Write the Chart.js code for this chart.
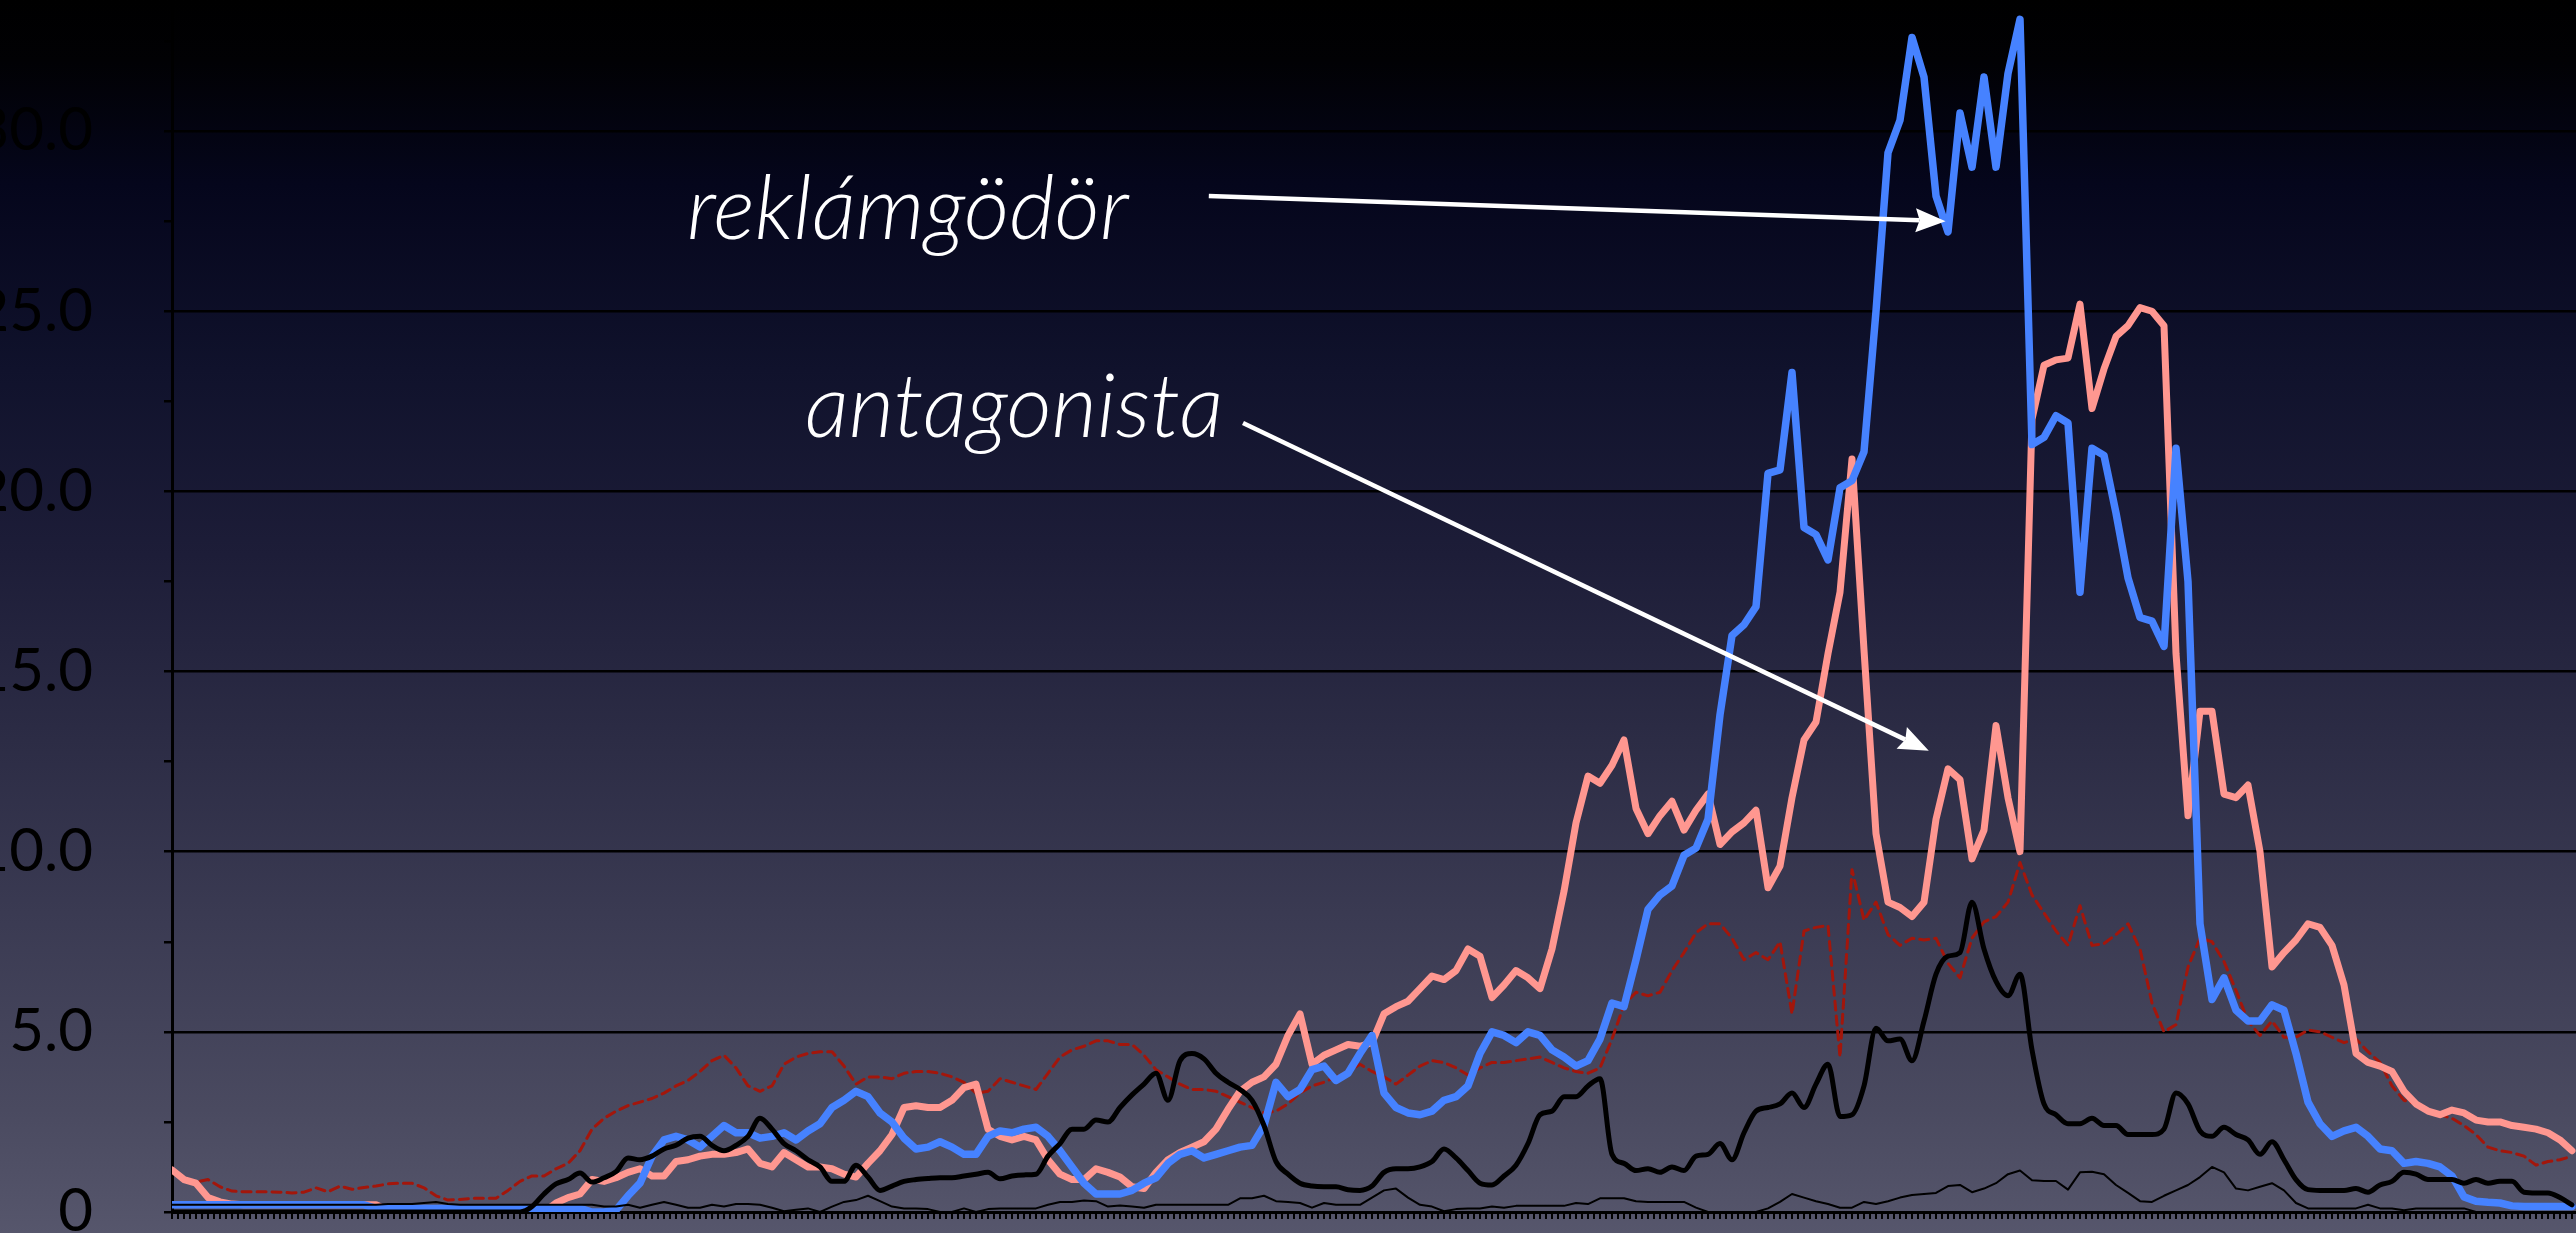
<!DOCTYPE html>
<html>
<head>
<meta charset="utf-8">
<script src="https://cdn.jsdelivr.net/npm/chart.js@4"></script>
<style>
  html, body { margin: 0; padding: 0; overflow: hidden; }
  body {
    width: 2576px; height: 1233px;
    background: linear-gradient(to bottom, #000000 0%, #010104 5%, #05061c 15%, #10122c 30%, #1d1d38 45%, #2c2c45 60%, #3b3b53 75%, #4a4a60 90%, #56566c 100%);
  }
  canvas { display: block; }
</style>
</head>
<body>
<canvas id="chart" width="2576" height="1233"></canvas>
<script>
// Series values, one point per step along the x axis
const seriesBlue = [
  0.2,0.2,0.2,0.2,0.2,0.2,0.2,0.2,0.2,0.2,
  0.2,0.2,0.2,0.2,0.2,0.2,0.2,0.1,0.1,0.1,
  0.1,0.1,0.1,0.1,0.1,0.1,0.1,0.1,0.1,0.1,
  0.1,0.1,0.1,0.1,0.1,0,0,0.05,0.45,0.8,
  1.55,2.0,2.1,2.0,1.8,2.1,2.4,2.2,2.2,2.05,
  2.1,2.2,2.0,2.25,2.45,2.9,3.1,3.35,3.2,2.75,
  2.5,2.05,1.75,1.8,1.95,1.8,1.6,1.6,2.1,2.25,
  2.2,2.3,2.35,2.1,1.7,1.25,0.8,0.5,0.5,0.5,
  0.6,0.8,0.95,1.35,1.6,1.7,1.5,1.6,1.7,1.8,
  1.85,2.4,3.6,3.2,3.4,3.95,4.05,3.65,3.85,4.4,
  4.9,3.3,2.9,2.75,2.7,2.8,3.1,3.2,3.5,4.4,
  5.0,4.9,4.7,5.0,4.9,4.5,4.3,4.05,4.2,4.8,
  5.8,5.7,7.0,8.4,8.8,9.05,9.9,10.1,10.9,13.8,
  16.0,16.3,16.8,20.5,20.6,23.3,19.0,18.8,18.1,20.1,
  20.3,21.1,25.0,29.4,30.3,32.6,31.5,28.2,27.2,30.5,
  29.0,31.5,29.0,31.6,33.1,21.3,21.5,22.1,21.9,17.2,
  21.2,21.0,19.4,17.6,16.5,16.4,15.7,21.2,17.5,8.0,
  5.9,6.5,5.6,5.3,5.3,5.75,5.6,4.4,3.05,2.45,
  2.1,2.25,2.35,2.1,1.75,1.7,1.35,1.4,1.35,1.25,
  1.0,0.42,0.3,0.27,0.25,0.17,0.15,0.15,0.15,0.15,
  0.15
];

const seriesPink = [
  1.17,0.9,0.8,0.4,0.28,0.22,0.2,0.2,0.2,0.2,
  0.2,0.2,0.2,0.2,0.2,0.2,0.2,0.2,0.05,0,
  0,0,0,0,0,0,0,0,0,0,
  0,0,0.25,0.4,0.5,0.9,0.85,0.95,1.1,1.2,
  1.0,1.0,1.4,1.45,1.55,1.6,1.6,1.65,1.75,1.35,
  1.25,1.65,1.45,1.25,1.25,1.2,1.05,0.97,1.35,1.7,
  2.15,2.9,2.95,2.9,2.9,3.1,3.45,3.55,2.3,2.1,
  2.0,2.1,2.0,1.45,1.05,0.9,0.9,1.2,1.1,0.97,
  0.7,0.65,1.1,1.45,1.65,1.8,1.95,2.3,2.85,3.35,
  3.6,3.75,4.1,4.9,5.5,4.1,4.35,4.5,4.65,4.6,
  4.7,5.5,5.7,5.85,6.2,6.55,6.45,6.7,7.3,7.1,
  5.95,6.3,6.7,6.5,6.2,7.3,8.9,10.8,12.1,11.9,
  12.4,13.1,11.2,10.5,11.0,11.4,10.6,11.15,11.6,10.2,
  10.55,10.8,11.15,9.0,9.6,11.5,13.1,13.6,15.5,17.2,
  20.9,15.6,10.5,8.6,8.45,8.2,8.6,10.9,12.3,12.0,
  9.8,10.6,13.5,11.5,10.0,22.0,23.5,23.65,23.7,25.2,
  22.3,23.4,24.3,24.6,25.1,25.0,24.6,15.5,11.0,13.9,
  13.9,11.6,11.5,11.85,10.0,6.8,7.2,7.55,8.0,7.9,
  7.4,6.3,4.4,4.15,4.05,3.9,3.35,3.0,2.8,2.7,
  2.83,2.75,2.55,2.5,2.5,2.4,2.35,2.3,2.2,2.0,
  1.7
];

const seriesDashed = [
  1.1,0.95,0.83,0.9,0.7,0.58,0.56,0.56,0.56,0.55,
  0.53,0.55,0.67,0.56,0.72,0.63,0.68,0.72,0.78,0.8,
  0.8,0.67,0.45,0.33,0.35,0.38,0.38,0.38,0.6,0.85,
  1.0,1.0,1.2,1.35,1.7,2.3,2.6,2.8,2.95,3.05,
  3.15,3.3,3.5,3.65,3.9,4.2,4.35,4.0,3.5,3.35,
  3.5,4.1,4.3,4.4,4.45,4.45,4.05,3.55,3.75,3.75,
  3.7,3.85,3.9,3.9,3.85,3.75,3.6,3.3,3.35,3.7,
  3.6,3.5,3.4,3.85,4.3,4.5,4.6,4.75,4.75,4.65,
  4.65,4.35,3.95,3.75,3.55,3.4,3.4,3.35,3.2,3.05,
  2.9,2.75,2.8,3.0,3.3,3.5,3.6,3.75,3.9,4.1,
  3.9,3.75,3.55,3.8,4.05,4.2,4.15,4.0,3.8,4.0,
  4.15,4.15,4.2,4.25,4.3,4.15,4.0,3.9,3.85,4.0,
  4.8,5.75,6.1,6.0,6.1,6.7,7.2,7.75,8.0,8.0,
  7.6,7.0,7.2,7.0,7.5,5.5,7.8,7.9,7.95,4.3,
  9.5,8.1,8.6,7.7,7.4,7.6,7.55,7.6,6.9,6.5,
  7.6,8.05,8.2,8.6,9.7,8.8,8.3,7.8,7.4,8.5,
  7.4,7.45,7.7,8.0,7.3,5.8,5.0,5.2,6.8,7.6,
  7.5,6.95,6.15,5.3,4.9,5.3,4.85,4.85,5.05,5.0,
  4.85,4.7,4.8,4.45,4.15,3.5,3.1,3.0,2.8,2.7,
  2.6,2.4,2.15,1.8,1.7,1.65,1.55,1.3,1.4,1.45,
  1.55
];

const seriesBlackThick = [
  0,0,0,0,0,0,0,0,0,0,
  0,0,0,0,0,0,0,0,0,0,
  0,0,0,0,0,0,0,0,0,0,
  0.15,0.5,0.78,0.9,1.08,0.83,0.95,1.12,1.5,1.45,
  1.55,1.75,1.85,2.05,2.1,1.85,1.7,1.85,2.1,2.6,
  2.3,1.9,1.7,1.45,1.25,0.85,0.85,1.3,0.97,0.6,
  0.72,0.85,0.9,0.93,0.95,0.95,1.0,1.05,1.1,0.92,
  1.0,1.03,1.05,1.55,1.9,2.3,2.3,2.55,2.5,2.9,
  3.25,3.55,3.85,3.1,4.2,4.4,4.25,3.85,3.6,3.4,
  3.1,2.4,1.4,1.05,0.8,0.72,0.7,0.7,0.62,0.6,
  0.72,1.1,1.2,1.2,1.25,1.4,1.75,1.5,1.15,0.8,
  0.75,1.0,1.3,1.9,2.7,2.8,3.2,3.2,3.5,3.7,
  1.6,1.35,1.15,1.2,1.1,1.25,1.15,1.55,1.6,1.9,
  1.45,2.2,2.8,2.9,3.0,3.3,2.9,3.55,4.1,2.65,
  2.7,3.5,5.1,4.75,4.8,4.2,5.3,6.6,7.1,7.2,
  8.6,7.3,6.4,6.0,6.6,4.5,3.0,2.7,2.45,2.45,
  2.6,2.4,2.4,2.15,2.15,2.15,2.3,3.3,3.0,2.25,
  2.1,2.35,2.15,2.0,1.6,1.95,1.45,0.9,0.62,0.6,
  0.6,0.6,0.65,0.55,0.75,0.85,1.1,1.05,0.9,0.9,
  0.9,0.8,0.9,0.8,0.85,0.85,0.55,0.53,0.53,0.4,
  0.2
];

const seriesBlackThin = [
  0.2,0.2,0.2,0.2,0.2,0.2,0.2,0.2,0.2,0.2,
  0.2,0.2,0.2,0.2,0.2,0.2,0.2,0.2,0.22,0.22,
  0.22,0.25,0.28,0.22,0.2,0.2,0.2,0.2,0.2,0.2,
  0.2,0.2,0.2,0.2,0.2,0.2,0.15,0.15,0.2,0.12,
  0.2,0.28,0.2,0.12,0.12,0.2,0.15,0.22,0.22,0.2,
  0.12,0.02,0.06,0.1,0,0.15,0.28,0.33,0.45,0.3,
  0.15,0.1,0.1,0.08,0,0,0.1,0,0.08,0.1,
  0.1,0.1,0.1,0.2,0.28,0.28,0.32,0.3,0.15,0.18,
  0.15,0.12,0.2,0.2,0.2,0.2,0.2,0.2,0.2,0.38,
  0.38,0.45,0.3,0.28,0.25,0.12,0.25,0.2,0.2,0.2,
  0.4,0.6,0.65,0.4,0.2,0.15,0.02,0.08,0.1,0.1,
  0.15,0.12,0.17,0.17,0.17,0.17,0.17,0.25,0.22,0.38,
  0.38,0.38,0.3,0.28,0.28,0.28,0.28,0.12,0,0,
  0,0,0,0.1,0.28,0.5,0.4,0.3,0.22,0.12,
  0.12,0.28,0.22,0.3,0.4,0.47,0.5,0.53,0.72,0.75,
  0.55,0.65,0.8,1.05,1.15,0.88,0.86,0.86,0.62,1.1,
  1.12,1.05,0.75,0.53,0.3,0.28,0.45,0.6,0.75,0.97,
  1.25,1.1,0.65,0.6,0.7,0.8,0.6,0.25,0.1,0.1,
  0.1,0.1,0.1,0.2,0.1,0.1,0.05,0.1,0.1,0.1,
  0.1,0.1,0,0,0,0,0,0,0,0,
  0
];

// Y axis tick labels
const yTickValues = [0, 5, 10, 15, 20, 25, 30];
const yTickLabels = ['0', '5.0', '10.0', '15.0', '20.0', '25.0', '30.0'];

// Callout texts, placed in data units (x step, y value)
const callouts = [
  { text: 'reklámgödör', at: [42.9, 27.0], from: [86.4, 28.2], to: [147.8, 27.5] },
  { text: 'antagonista', at: [52.75, 21.5], from: [89.25, 21.9], to: [146.4, 12.8] }
];

const toPoints = arr => arr.map((v, i) => ({ x: i, y: v }));

// Draw callout texts and arrows
const calloutPlugin = {
  id: 'callouts',
  afterDatasetsDraw(chart) {
    const { ctx, scales: { x, y } } = chart;
    ctx.save();
    ctx.fillStyle = '#fff';
    ctx.strokeStyle = '#fff';
    ctx.font = 'italic 300 88px Lato, "Open Sans", sans-serif';
    ctx.textBaseline = 'alphabetic';
    ctx.textAlign = 'left';
    callouts.forEach(c => {
      ctx.fillText(c.text, x.getPixelForValue(c.at[0]), y.getPixelForValue(c.at[1]));
      const x1 = x.getPixelForValue(c.from[0]), y1 = y.getPixelForValue(c.from[1]);
      const x2 = x.getPixelForValue(c.to[0]), y2 = y.getPixelForValue(c.to[1]);
      const ang = Math.atan2(y2 - y1, x2 - x1);
      const headLen = 26, headW = 12;
      const bx = x2 - headLen * Math.cos(ang), by = y2 - headLen * Math.sin(ang);
      ctx.lineWidth = 4.5;
      ctx.beginPath();
      ctx.moveTo(x1, y1);
      ctx.lineTo(bx, by);
      ctx.stroke();
      ctx.beginPath();
      ctx.moveTo(x2, y2);
      ctx.lineTo(bx + headW * Math.sin(ang) - 4 * Math.cos(ang), by - headW * Math.cos(ang) - 4 * Math.sin(ang));
      ctx.lineTo(bx, by);
      ctx.lineTo(bx - headW * Math.sin(ang) - 4 * Math.cos(ang), by + headW * Math.cos(ang) - 4 * Math.sin(ang));
      ctx.closePath();
      ctx.fill();
    });
    ctx.restore();
  }
};

const ctx = document.getElementById('chart').getContext('2d');
new Chart(ctx, {
  type: 'line',
  data: {
    datasets: [
      { data: toPoints(seriesBlackThick), borderColor: '#000', borderWidth: 5, cubicInterpolationMode: 'monotone' },
      { data: toPoints(seriesBlackThin), borderColor: '#000', borderWidth: 2 },
      { data: toPoints(seriesBlue), borderColor: '#4682ff', borderWidth: 7.5 },
      { data: toPoints(seriesPink), borderColor: '#ff9790', borderWidth: 7 },
      { data: toPoints(seriesDashed), borderColor: '#a3160b', borderWidth: 3, borderDash: [9, 6] }
    ]
  },
  options: {
    responsive: false,
    animation: false,
    devicePixelRatio: 1,
    layout: { padding: { top: 5, right: 0, left: 0, bottom: 0 } },
    elements: {
      point: { radius: 0 },
      line: { tension: 0, borderJoinStyle: 'round', borderCapStyle: 'round', fill: false }
    },
    plugins: { legend: { display: false }, tooltip: { enabled: false } },
    scales: {
      x: {
        type: 'linear',
        min: 0,
        max: seriesBlue.length - 1 + 1 / 3,
        afterFit: s => { s.height = 21; s.paddingLeft = 0; s.paddingRight = 0; },
        border: { display: true, color: '#000', width: 3 },
        grid: { drawOnChartArea: false, drawTicks: true, tickLength: 7, tickColor: '#000', lineWidth: 2 },
        ticks: { display: false, stepSize: 0.5, includeBounds: false, autoSkip: false }
      },
      y: {
        min: 0,
        max: 33.5,
        // fixed axis width; labels overflow past the left edge as in the original
        afterFit: s => { s.width = 172; s.paddingTop = 0; s.paddingBottom = 0; },
        border: { display: true, color: '#000', width: 3 },
        grid: {
          color: c => (c.tick && yTickValues.includes(c.tick.value)) ? '#000' : 'rgba(0,0,0,0)',
          tickColor: '#000',
          lineWidth: 2.5,
          tickLength: 8
        },
        ticks: {
          stepSize: 2.5,
          includeBounds: false,
          autoSkip: false,
          padding: 71,
          color: '#000',
          font: { family: 'Lato, "Open Sans", sans-serif', size: 60 },
          callback: v => {
            const k = yTickValues.indexOf(v);
            return k >= 0 ? yTickLabels[k] : '';
          }
        }
      }
    }
  },
  plugins: [calloutPlugin]
});
</script>
</body>
</html>
